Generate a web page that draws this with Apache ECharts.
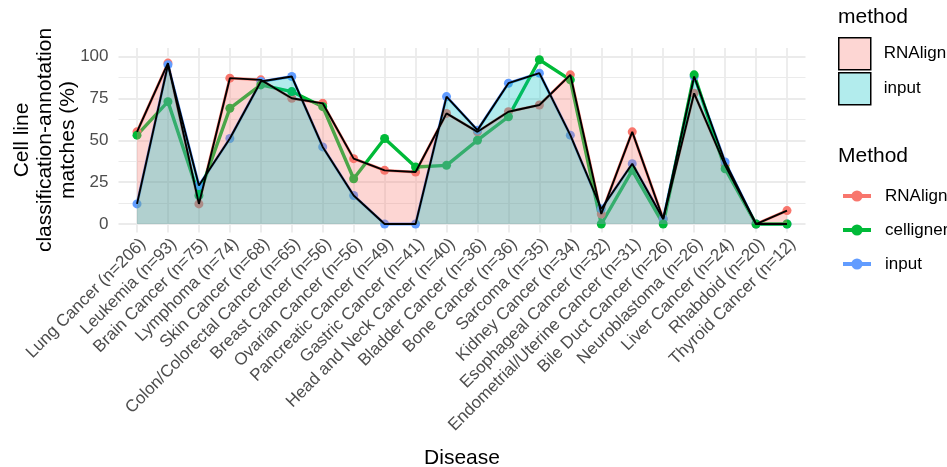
<!DOCTYPE html>
<html>
<head>
<meta charset="utf-8">
<script src="https://cdn.jsdelivr.net/npm/echarts@6/dist/echarts.min.js"></script>
<style>html,body{margin:0;padding:0;background:#fff}#c{width:947px;height:467px}</style>
</head>
<body>
<div id="c"></div>
<script>
var categories = ["Lung Cancer (n=206)","Leukemia (n=93)","Brain Cancer (n=75)","Lymphoma (n=74)","Skin Cancer (n=68)","Colon/Colorectal Cancer (n=65)","Breast Cancer (n=56)","Ovarian Cancer (n=56)","Pancreatic Cancer (n=49)","Gastric Cancer (n=41)","Head and Neck Cancer (n=40)","Bladder Cancer (n=36)","Bone Cancer (n=36)","Sarcoma (n=35)","Kidney Cancer (n=34)","Esophageal Cancer (n=32)","Endometrial/Uterine Cancer (n=31)","Bile Duct Cancer (n=26)","Neuroblastoma (n=26)","Liver Cancer (n=24)","Rhabdoid (n=20)","Thyroid Cancer (n=12)"];
var rnalign   = [55,96,12,87,86,75,72,39,32,31,66,55,67,71,89,6,55,3,78,35,0,8];
var celligner = [53,73,17,69,83,79,70,27,51,34,35,50,64,98,86,0,32,0,89,33,0,0];
var input     = [12,95,23,51,85,88,46,17,0,0,76,56,84,90,53,9,36,3,88,37,0,0];
var yTicks = [0,25,50,75,100];

var FONT = 'Liberation Sans';
var chart = echarts.init(document.getElementById('c'), null, {renderer:'canvas'});
var grey = '#EBEBEB';
function lineSeries(name, data, color, w){
  return {name:name, type:'line', data:data, xAxisIndex:1, yAxisIndex:1,
    symbol:'circle', symbolSize:9, color:color, itemStyle:{color:color},
    lineStyle:{color:color, width:w}, z:2, animation:false};
}
function areaSeries(name, data, fill){
  return {name:name, type:'line', data:data, xAxisIndex:1, yAxisIndex:1,
    symbol:'none', showSymbol:false, color:fill,
    lineStyle:{color:'#000', width:1.9}, areaStyle:{color:fill, opacity:1}, z:3, animation:false};
}
var option = {
  animation:false,
  textStyle:{fontFamily:FONT},
  grid:[
    {left:118.5, right:141.5, top:56.5, bottom:243},
    {left:137, right:160, top:48, bottom:234.6}
  ],
  xAxis:[
    {type:'value', gridIndex:0, min:0, max:1, show:false},
    {type:'category', gridIndex:1, data:categories, boundaryGap:false,
      axisLine:{show:false}, axisTick:{show:false},
      splitLine:{show:true, lineStyle:{color:grey, width:1.8}},
      axisLabel:{rotate:45, interval:0, verticalAlign:'top', margin:3, fontSize:17, color:'#4D4D4D', fontFamily:FONT}}
  ],
  yAxis:[
    {type:'value', gridIndex:0, min:yTicks[0], max:yTicks[yTicks.length-1], interval:25,
      axisLine:{show:false}, axisTick:{show:false},
      minorTick:{show:false, splitNumber:2},
      splitLine:{show:true, lineStyle:{color:grey, width:1.8}},
      minorSplitLine:{show:true, lineStyle:{color:grey, width:1.1}},
      axisLabel:{fontSize:17, color:'#4D4D4D', margin:10, fontFamily:FONT}},
    {type:'value', gridIndex:1, min:-5, max:105, show:false, splitLine:{show:false}}
  ],
  legend:[
    {data:[{name:'RNAlign_area', itemStyle:{color:'rgba(248,118,109,0.3)', borderColor:'#000', borderWidth:1.5}},
           {name:'input_area', itemStyle:{color:'rgba(0,191,196,0.3)', borderColor:'#000', borderWidth:1.5}}],
     orient:'vertical', left:838, top:37, padding:0, itemWidth:32, itemHeight:32, itemGap:1.5, icon:'rect',
     formatter:function(n){return n.replace('_area','');},
     textStyle:{fontSize:17, color:'#000', fontFamily:FONT, padding:[0,0,0,8]}},
    {data:['RNAlign','celligner','input'], orient:'vertical', left:841, top:187.5, padding:0,
     itemWidth:28, itemHeight:14, itemGap:17, lineStyle:{width:4},
     textStyle:{fontSize:17, color:'#000', fontFamily:FONT, padding:[0,0,0,9]}}
  ],
  graphic:[
    {type:'text', left:838, top:7, style:{text:'method', fontSize:21, fontFamily:FONT, fill:'#000'}},
    {type:'text', left:838, top:146, style:{text:'Method', fontSize:21, fontFamily:FONT, fill:'#000'}},
    {type:'text', x:462, y:458, style:{text:'Disease', fontSize:21, fontFamily:FONT, fill:'#000', align:'center', verticalAlign:'middle'}},
    {type:'text', x:45, y:140, rotation:Math.PI/2, style:{text:'Cell line\nclassification-annotation\nmatches (%)', fontSize:21, lineHeight:23, fontFamily:FONT, fill:'#000', align:'center', verticalAlign:'middle'}}
  ],
  series:[
    lineSeries('RNAlign', rnalign, '#F8766D', 2.8),
    lineSeries('input', input, '#619CFF', 2.8),
    lineSeries('celligner', celligner, '#00BA38', 3.4),
    areaSeries('RNAlign_area', rnalign, 'rgba(248,118,109,0.3)'),
    areaSeries('input_area', input, 'rgba(0,191,196,0.3)')
  ]
};
chart.setOption(option);
</script>
</body>
</html>
